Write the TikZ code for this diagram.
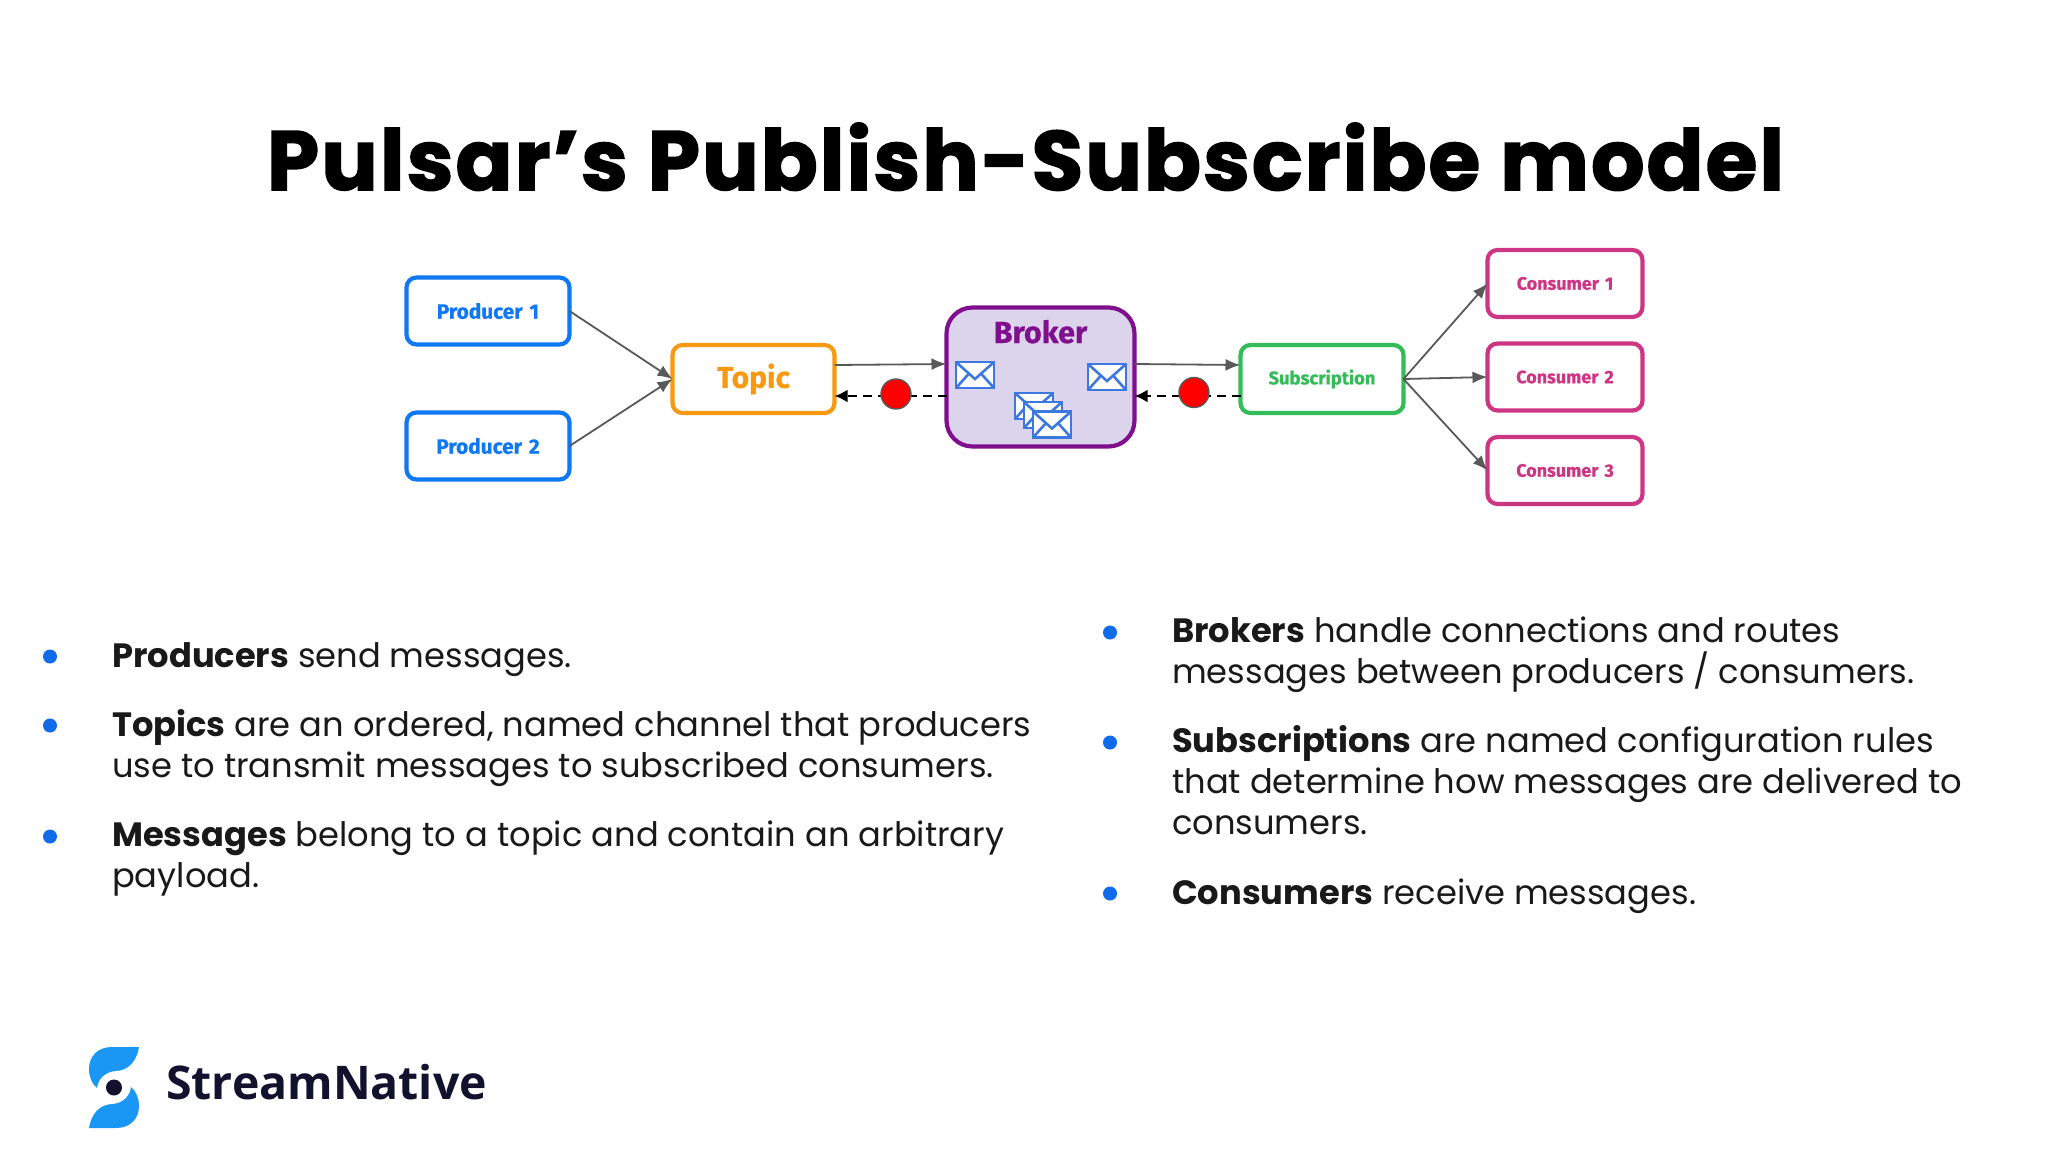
\documentclass[tikz,border=0pt]{standalone}
\usepackage{fontspec}
\setmainfont{Poppins}
\newfontfamily\titlefont[LetterSpace=2.4,BoldFeatures={FakeBold=1.8}]{Poppins}
\newfontfamily\diagfont[BoldFeatures={FakeBold=0.6}]{Fira Sans}
\newfontfamily\logofont{Open Sans}
\usetikzlibrary{arrows.meta}
\definecolor{cblue}{HTML}{0F78F2}
\definecolor{corange}{HTML}{F79A12}
\definecolor{cpurple}{HTML}{800F8E}
\definecolor{cgreen}{HTML}{34BC58}
\definecolor{cpink}{HTML}{CC3682}
\definecolor{cgray}{HTML}{595959}
\definecolor{brokerfill}{HTML}{DCD3EC}
\definecolor{envblue}{HTML}{3D78E0}
\definecolor{bulletblue}{HTML}{0F6BE8}
\definecolor{logoblue}{HTML}{1A96F5}
\definecolor{logodark}{HTML}{12122E}
\tikzset{
  px/.style={x=1pt,y=-1pt},
  boxnode/.style={draw,line width=4.2pt,rounded corners=10pt,fill=white,inner sep=0pt,outer sep=0pt,
    text width=#1,align=center,font=\diagfont\bfseries},
  prod/.style={boxnode=120pt,draw=cblue,text=cblue,minimum width=163pt,minimum height=67pt},
  cons/.style={boxnode=120pt,draw=cpink,text=cpink,minimum width=155pt,minimum height=67pt},
  flow/.style={draw=cgray,line width=1.8pt,-{Latex[length=15pt,width=12pt]}},
  back/.style={draw=black,line width=2.6pt,dash pattern=on 9pt off 6pt,-{Latex[length=13pt,width=13pt]}},
  reddot/.style={circle,fill=red,draw=cgray,line width=1.4pt,minimum size=30pt,inner sep=0pt},
  bullet/.style={circle,fill=bulletblue,minimum size=14pt,inner sep=0pt},
  bodytext/.style={anchor=north west,inner sep=0pt,align=left,text=black!90,font=\fontsize{33.7}{41}\selectfont},
  envbox/.style={draw=envblue,line width=2.8pt,fill=white},
  pics/envelope/.style={code={
    \draw[envbox] (-19,-13) rectangle (19,13);
    \draw[draw=envblue,line width=2.6pt] (-19,-13) -- (0,4) -- (19,-13);
    \draw[draw=envblue,line width=2.6pt] (-19,13) -- (-6,-1.5) (19,13) -- (6,-1.5);
  }},
}
\newcommand{\lead}[1]{\textbf{#1}}
\newcommand{\lowered}[1]{\raisebox{-3pt}{#1}}
\begin{document}
\begin{tikzpicture}[px]
\useasboundingbox (0,0) rectangle (2048,1152);
\fill[white] (0,0) rectangle (2048,1152);

\node[anchor=base,inner sep=0pt,font=\titlefont\bfseries\fontsize{84}{96}\selectfont,text=black] (title) at (1025.5,190) {Pulsar’s Publish-Subscribe model};

% diagram nodes
\node[prod,font=\diagfont\bfseries\fontsize{20.8}{24}\selectfont] (p1) at (488,311) {Producer 1};
\node[prod,font=\diagfont\bfseries\fontsize{20.8}{24}\selectfont] (p2) at (488,446) {Producer 2};
\node[boxnode=140pt,draw=corange,text=corange,minimum width=162pt,minimum height=68pt,font=\diagfont\bfseries\fontsize{30}{34}\selectfont] (topic) at (753.5,379) {\lowered{Topic}};
\node[boxnode=170pt,draw=cpurple,fill=brokerfill,text=cpurple,rounded corners=26pt,minimum width=188pt,minimum height=139pt] (broker) at (1040.5,377) {};
\node[anchor=base,inner sep=0pt,text=cpurple,font=\diagfont\bfseries\fontsize{30.5}{34}\selectfont] (brokerlabel) at (1040.5,343) {Broker};
\node[boxnode=150pt,draw=cgreen,text=cgreen,minimum width=163pt,minimum height=68pt,font=\diagfont\bfseries\fontsize{18.4}{22}\selectfont] (sub) at (1322,379) {\lowered{Subscription}};
\node[cons,font=\diagfont\bfseries\fontsize{18}{22}\selectfont] (c1) at (1565,283.5) {Consumer 1};
\node[cons,font=\diagfont\bfseries\fontsize{18}{22}\selectfont] (c2) at (1565,377) {Consumer 2};
\node[cons,font=\diagfont\bfseries\fontsize{18}{22}\selectfont] (c3) at (1565,470.5) {Consumer 3};

% envelopes
\pic at (975,375) {envelope};
\pic at (1107,377) {envelope};
\pic at (1034,406) {envelope};
\pic at (1043,415) {envelope};
\pic at (1052,424.5) {envelope};

% connectors
\draw[flow] (p1.east) -- (topic.west);
\draw[flow] (p2.east) -- (topic.west);
\draw[flow] ([yshift=14pt]topic.east) -- ([yshift=13pt]broker.west);
\draw[flow] ([yshift=13pt]broker.east) -- ([yshift=14pt]sub.west);
\draw[flow] (sub.east) -- (c1.west);
\draw[flow] (sub.east) -- (c2.west);
\draw[flow] (sub.east) -- (c3.west);
\draw[back] ([yshift=-19pt]broker.west) -- ([yshift=-17pt]topic.east);
\draw[back] ([yshift=-17pt]sub.west) -- ([yshift=-19pt]broker.east);
\node[reddot] (d1) at (896,394) {};
\node[reddot] (d2) at (1194,392.5) {};

% text
\node[bullet] (b1) at (50,656.5) {};
\node[bullet] (b2) at (50,725.5) {};
\node[bullet] (b3) at (50,836.5) {};
\node[bullet] (b4) at (1110,632.5) {};
\node[bullet] (b5) at (1110,742.5) {};
\node[bullet] (b6) at (1110,893.5) {};

\node[bodytext] (t1) at (112,638.5) {\strut\lead{Producers} send messages.};
\node[bodytext] (t2) at (112,707.5) {\strut\lead{Topics} are an ordered, named channel that producers\\\strut use to transmit messages to subscribed consumers.};
\node[bodytext] (t3) at (112,817.5) {\strut\lead{Messages} belong to a topic and contain an arbitrary\\\strut payload.};
\node[bodytext] (t4) at (1172,614) {\strut\lead{Brokers} handle connections and routes\\\strut messages between producers \smash{/} consumers.};
\node[bodytext] (t5) at (1172,723.5) {\strut\lead{Subscriptions} are named configuration rules\\\strut that determine how messages are delivered to\\\strut consumers.};
\node[bodytext] (t6) at (1172,875.5) {\strut\lead{Consumers} receive messages.};

% logo
\fill[logoblue] (139,1047) -- (112,1047) .. controls (97,1047) and (89,1057) .. (89,1069) .. controls (89,1077) and (92,1084) .. (97,1088) .. controls (98,1079) and (105,1072) .. (115,1071) .. controls (129,1071) and (137,1060) .. (139,1047) -- cycle;
\fill[logoblue] (89,1128) -- (116,1128) .. controls (131,1128) and (139,1118) .. (139,1106) .. controls (139,1098) and (136,1091) .. (131,1087) .. controls (130,1096) and (123,1103) .. (113,1104) .. controls (99,1104) and (91,1115) .. (89,1128) -- cycle;
\fill[logodark] (114,1087.5) circle (8);
\node[anchor=base west,inner sep=0pt,text=logodark,font=\logofont\bfseries\fontsize{46.4}{54}\selectfont] (logotext) at (166,1099) {StreamNative};
\end{tikzpicture}
\end{document}
